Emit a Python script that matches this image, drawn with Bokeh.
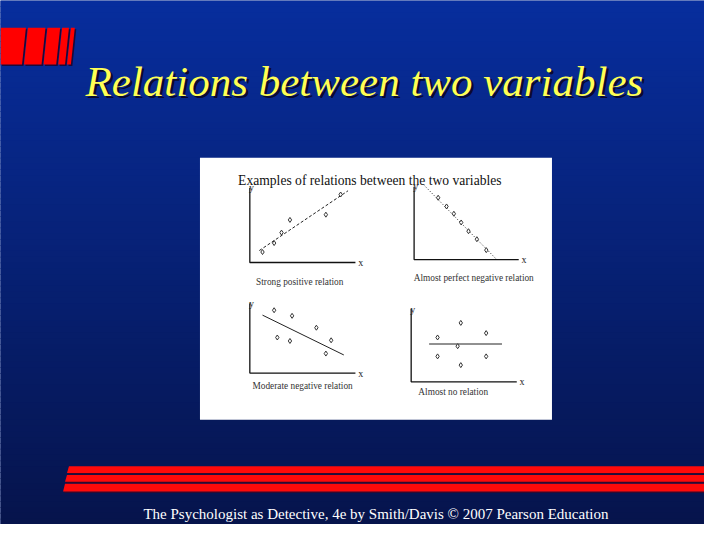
import numpy as np
from bokeh.plotting import figure
from bokeh.models import Range1d
from bokeh.core.properties import value
from bokeh.embed import file_html
from bokeh.resources import INLINE

# ---------------- data ----------------
TITLE = "Relations between two variables"
SUBTITLE = "Examples of relations between the two variables"
FOOTER = "The Psychologist as Detective, 4e by Smith/Davis \u00a9 2007 Pearson Education"
captions = ["Strong positive relation", "Almost perfect negative relation",
            "Moderate negative relation", "Almost no relation"]

strong_x = [1.2, 2.3, 3.0, 3.8, 7.2, 8.6]
strong_y = [1.4, 2.6, 4.0, 5.7, 6.4, 9.1]
strong_fit_x = [0.9, 9.3]
strong_fit_y = [1.6, 9.6]

perfect_x = [2.3, 3.1, 3.8, 4.5, 5.2, 6.0, 6.9]
perfect_y = [8.5, 7.3, 6.3, 5.1, 3.9, 2.8, 1.3]
perfect_fit_x = [0.9, 7.9]
perfect_fit_y = [10.3, 0.0]

moderate_x = [2.3, 4.0, 6.3, 2.6, 3.8, 7.7, 7.2]
moderate_y = [9.0, 8.2, 6.5, 5.1, 4.6, 4.7, 2.8]
moderate_fit_x = [1.2, 8.9]
moderate_fit_y = [8.3, 2.6]

none_x = [4.7, 2.5, 7.1, 4.4, 2.5, 7.1, 4.7]
none_y = [8.1, 6.1, 6.7, 4.9, 3.5, 3.5, 2.3]
none_fit_x = [1.7, 8.6]
none_fit_y = [5.2, 5.2]

# ---------------- layout (slide pixel coordinates 720 x 540) ----------------
W, H = 704, 524
PX0, PX1, PY0, PY1 = 0, 720, 0, 540

p = figure(width=W, height=H, output_backend="svg", toolbar_location=None,
           x_range=Range1d(PX0, PX1), y_range=Range1d(PY1, PY0),
           min_border=0)
p.axis.visible = False
p.grid.visible = False
p.outline_line_color = None
p.background_fill_color = "#0a2a90"
p.border_fill_color = "#0a2a90"

# gradient background
nb = 90
edges = np.linspace(0, 540, nb + 1)
top = np.array([8, 46, 158])
bot = np.array([6, 20, 76])
cols = []
for i in range(nb):
    t = (i + 0.5) / nb
    c = (top * (1 - t) + bot * t).astype(int)
    cols.append("#%02x%02x%02x" % tuple(c))
p.quad(left=-5, right=725, top=edges[:-1], bottom=edges[1:] + 0.8, fill_color=cols, line_color=None)

# red logo blocks (top-left)
blocks = [
    [(0, 28), (26, 28), (22, 66), (0, 66)],
    [(28, 28), (46, 28), (42, 66), (24, 66)],
    [(48, 28), (61, 28), (57, 66), (44, 66)],
    [(63, 28), (70, 28), (66, 66), (59, 66)],
    [(72, 28), (76, 28), (72, 66), (68, 66)],
]
p.patches([[q[0] + 1.5 for q in b] for b in blocks], [[q[1] + 1.5 for q in b] for b in blocks],
          fill_color="#1a0a3a", line_color=None)
p.patches([[q[0] for q in b] for b in blocks], [[q[1] for q in b] for b in blocks],
          fill_color="#ff0000", line_color=None)

# red stripes (bottom)
stripes = [(480, 487, 70, 68), (489, 496, 68, 66), (498, 506, 66, 64)]
for yt, yb, xt, xb in stripes:
    p.patch([xt + 1, 725, 725, xb + 1], [yt + 1.5, yt + 1.5, yb + 1.5, yb + 1.5], fill_color="#300a30", line_color=None)
    p.patch([xt, 725, 725, xb], [yt, yt, yb, yb], fill_color="#ff0a0a", line_color=None)

# title with shadow
p.text(x=[89.5], y=[85.5], text=[TITLE], text_font=value("Liberation Serif"), text_font_style="italic",
       text_font_size=value("43px"), text_color="#0a0a30", text_baseline="alphabetic", text_align="left")
p.text(x=[87], y=[83], text=[TITLE], text_font=value("Liberation Serif"), text_font_style="italic",
       text_font_size=value("43px"), text_color="#ffff55", text_baseline="alphabetic", text_align="left")

# footer
p.text(x=[384], y=[529], text=[FOOTER], text_font=value("Liberation Serif"),
       text_font_size=value("15px"), text_color="#ffffff", text_baseline="alphabetic", text_align="center")

# white image box
p.quad(left=204, right=564, top=162, bottom=432, fill_color="#ffffff", line_color=None)
p.text(x=[243], y=[185], text=[SUBTITLE], text_font=value("Liberation Serif"),
       text_font_size=value("13.6px"), text_color="#111111", text_baseline="alphabetic", text_align="left")

# panels: origin pixel, px per unit (x, y), caption centre, fit line dash
panels = [
    dict(o=(255, 270), s=(10.8, 7.7), cap=(306, 290), dash="3 2",
         x=strong_x, y=strong_y, fx=strong_fit_x, fy=strong_fit_y),
    dict(o=(423, 267), s=(10.7, 7.5), cap=(484, 286), dash="1 2",
         x=perfect_x, y=perfect_y, fx=perfect_fit_x, fy=perfect_fit_y),
    dict(o=(255, 384), s=(10.8, 7.2), cap=(309, 397), dash="solid",
         x=moderate_x, y=moderate_y, fx=moderate_fit_x, fy=moderate_fit_y),
    dict(o=(420, 393), s=(10.8, 7.5), cap=(463, 403), dash="solid",
         x=none_x, y=none_y, fx=none_fit_x, fy=none_fit_y),
]

for i, pn in enumerate(panels):
    ox, oy = pn["o"]
    sx, sy = pn["s"]
    xn, yn = "px%d" % i, "py%d" % i
    p.extra_x_ranges[xn] = Range1d((PX0 - ox) / sx, (PX1 - ox) / sx)
    p.extra_y_ranges[yn] = Range1d((oy - PY1) / sy, (oy - PY0) / sy)
    kw = dict(x_range_name=xn, y_range_name=yn)
    # axes
    p.line([0, 0, 10], [10, 0, 0], line_color="#111111", line_width=1.3, **kw)
    p.text(x=[0.15], y=[10.0], text=["y"], text_font=value("Liberation Serif"), text_font_size=value("10px"),
           text_color="#222222", text_align="center", text_baseline="middle", **kw)
    p.text(x=[10.5], y=[0], text=["x"], text_font=value("Liberation Serif"), text_font_size=value("10px"),
           text_color="#222222", text_align="center", text_baseline="middle", **kw)
    # fit line
    p.line(pn["fx"], pn["fy"], line_color="#222222", line_width=1, line_dash=pn["dash"], **kw)
    # points
    p.scatter(pn["x"], pn["y"], marker="diamond", size=5, fill_color="#ffffff",
              line_color="#333333", line_width=1, **kw)
    # caption
    p.text(x=[pn["cap"][0]], y=[pn["cap"][1]], text=[captions[i]], text_font=value("Liberation Serif"),
           text_font_size=value("9.3px"), text_color="#333333", text_align="center", text_baseline="middle")

open("out.html", "w").write(file_html(p, INLINE))
